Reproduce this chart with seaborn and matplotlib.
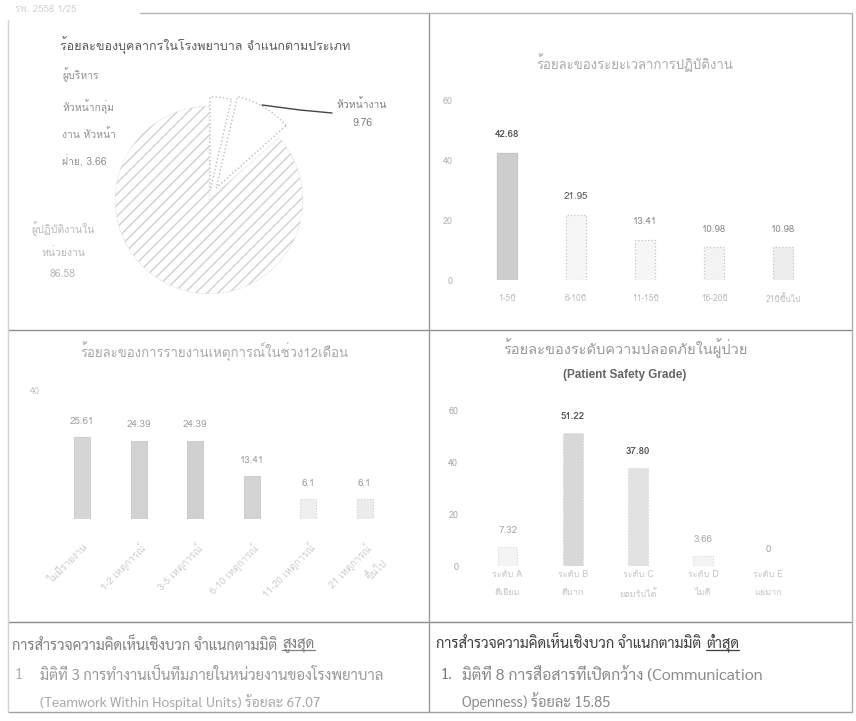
import matplotlib
matplotlib.use("Agg")
import matplotlib.pyplot as plt
import seaborn as sns
import pandas as pd
from matplotlib.lines import Line2D

# ---------------- data ----------------
staff_labels = ["ผู้บริหาร\nหัวหน้ากลุ่ม\nงาน หัวหน้า\nฝ่าย, 3.66",
                "หัวหน้างาน\n9.76",
                "ผู้ปฏิบัติงานใน\nหน่วยงาน\n86.58"]
staff_values = [3.66, 9.76, 86.58]

tenure_cats = ["1-5ปี", "6-10ปี", "11-15ปี", "16-20ปี", "21ปีขึ้นไป"]
tenure_values = [42.68, 21.95, 13.41, 10.98, 10.98]
tenure_text = ["42.68", "21.95", "13.41", "10.98", "10.98"]

report_cats = ["ไม่มีรายงาน", "1-2 เหตุการณ์", "3-5 เหตุการณ์",
               "6-10 เหตุการณ์", "11-20 เหตุการณ์", "21 เหตุการณ์\nขึ้นไป"]
report_values = [25.61, 24.39, 24.39, 13.41, 6.1, 6.1]
report_text = ["25.61", "24.39", "24.39", "13.41", "6.1", "6.1"]

grade_cats = ["ระดับ A\nดีเยี่ยม", "ระดับ B\nดีมาก", "ระดับ C\nยอมรับได้",
              "ระดับ D\nไม่ดี", "ระดับ E\nแย่มาก"]
grade_values = [7.32, 51.22, 37.80, 3.66, 0]
grade_text = ["7.32", "51.22", "37.80", "3.66", "0"]

W, H = 856, 721
sns.set_theme(style="white")
plt.rcParams['font.family'] = ['Loma', 'DejaVu Sans']
THAI = ['Loma', 'DejaVu Sans']
SARA = ['Sarabun', 'DejaVu Sans']

fig = plt.figure(figsize=(W / 100, H / 100), dpi=100)
fig.patch.set_facecolor('white')


def rect(l, t, r, b):
    return [l / W, 1 - b / H, (r - l) / W, (b - t) / H]


def fx(px):
    return px / W


def fy(py):
    return 1 - py / H


def hline(y, x0, x1, color='#9c9c9c', lw=1.0):
    fig.add_artist(Line2D([fx(x0), fx(x1)], [fy(y), fy(y)], color=color, lw=lw,
                          transform=fig.transFigure))


def vline(x, y0, y1, color='#9c9c9c', lw=1.0):
    fig.add_artist(Line2D([fx(x), fx(x)], [fy(y0), fy(y1)], color=color, lw=lw,
                          transform=fig.transFigure))


# ---------------- table frame ----------------
hline(13, 140, 852, '#b5b5b5')
hline(330, 8, 852, '#8f8f8f')
hline(622, 8, 852, '#8a8a8a')
hline(712, 8, 852, '#a0a0a0')
vline(8, 20, 712, '#d2d2d2')
vline(852, 13, 712, '#b0b0b0')
vline(429, 13, 712, '#9a9a9a')

fig.text(fx(15), fy(9), "รพ. 2558 1/25", fontsize=7, color='#d2d2d2',
         family=THAI, va='center')

# ---------------- pie ----------------
ax_pie = fig.add_axes(rect(209 - 150, 200 - 150, 209 + 150, 200 + 150))
wedges, _ = ax_pie.pie(staff_values, startangle=90, counterclock=False,
                       explode=[0.1, 0.15, 0.0], radius=1)
ax_pie.set_xlim(-1.6, 1.6)
ax_pie.set_ylim(-1.6, 1.6)
ax_pie.axis('off')
for w in wedges[:2]:
    w.set_facecolor('white')
    w.set_edgecolor('#bdbdbd')
    w.set_linestyle(':')
    w.set_linewidth(1.0)
wedges[2].set_facecolor('white')
wedges[2].set_edgecolor('#d0d0d0')
wedges[2].set_hatch('///')
wedges[2].set_linewidth(0.6)
wedges[2].set_linestyle(':')

fig.text(fx(60), fy(45), "ร้อยละของบุคลากรในโรงพยาบาล จำแนกตามประเภท",
         fontsize=9, color='#5a5a5a', family=THAI, va='center')
fig.text(fx(62), fy(67), staff_labels[0], fontsize=7.5, color='#929292',
         family=THAI, va='top', ha='left', linespacing=2.45)
fig.text(fx(362), fy(113), staff_labels[1], fontsize=7.5, color='#808080',
         family=THAI, va='center', ha='center', linespacing=2.1)
fig.text(fx(63), fy(250), staff_labels[2], fontsize=7.5, color='#b8b8b8',
         family=THAI, va='center', ha='center', linespacing=2.3)
fig.add_artist(Line2D([fx(262), fx(300), fx(332)], [fy(105), fy(110), fy(113)],
                      color='#444444', lw=1.0, transform=fig.transFigure))


def style_bar_ax(ax, ypad, xpad, tick_color, tick_size):
    for s in ax.spines.values():
        s.set_visible(False)
    ax.tick_params(axis='both', length=0, colors=tick_color, labelsize=tick_size)
    ax.tick_params(axis='y', pad=ypad)
    ax.tick_params(axis='x', pad=xpad)
    ax.set_xlabel('')
    ax.set_ylabel('')
    ax.set_facecolor('none')


# ---------------- tenure bars ----------------
ax1 = fig.add_axes(rect(472, 101, 818, 280))
df1 = pd.DataFrame({'cat': tenure_cats, 'val': tenure_values})
pal1 = dict(zip(tenure_cats, ['#cdcdcd', '#f6f6f6', '#f6f6f6', '#f3f3f3', '#ededed']))
sns.barplot(data=df1, x='cat', y='val', hue='cat', palette=pal1, legend=False,
            width=0.29, edgecolor='#c6c6c6', linewidth=0.9, saturation=1, ax=ax1)
ax1.set_ylim(0, 60)
ax1.set_yticks([0, 20, 40, 60])
style_bar_ax(ax1, 14, 10, '#b4b4b4', 6.5)
plt.setp(ax1.get_xticklabels(), fontsize=6, color='#bdbdbd')
for i, (p, t) in enumerate(zip(ax1.patches, tenure_text)):
    p.set_linestyle(':' if i else '-')
    ax1.annotate(t, (p.get_x() + p.get_width() / 2, p.get_height()),
                 xytext=(0, 13), textcoords='offset points', ha='center',
                 va='center', fontsize=7, family=THAI,
                 color='#555555' if i < 2 else '#8a8a8a',
                 fontweight='bold' if i == 0 else 'normal')
fig.text(fx(635), fy(63), "ร้อยละของระยะเวลาการปฏิบัติงาน", fontsize=9.5,
         color='#ababab', family=THAI, ha='center', va='center')

# ---------------- report bars ----------------
ax2 = fig.add_axes(rect(54, 391, 393, 519))
df2 = pd.DataFrame({'cat': report_cats, 'val': report_values})
pal2 = dict(zip(report_cats, ['#d6d6d6', '#d2d2d2', '#d0d0d0', '#d4d4d4',
                              '#efefef', '#ececec']))
sns.barplot(data=df2, x='cat', y='val', hue='cat', palette=pal2, legend=False,
            width=0.29, edgecolor='#cfcfcf', linewidth=0.8, saturation=1, ax=ax2)
ax2.set_ylim(0, 40)
ax2.set_yticks([40])
style_bar_ax(ax2, 10, 16, '#c4c4c4', 6.5)
plt.setp(ax2.get_xticklabels(), rotation=45, ha='right', rotation_mode='anchor',
         color='#cccccc', fontsize=7, linespacing=1.8)
for i, (p, t) in enumerate(zip(ax2.patches, report_text)):
    if i >= 4:
        p.set_linestyle(':')
    ax2.annotate(t, (p.get_x() + p.get_width() / 2, p.get_height()),
                 xytext=(0, 11.5), textcoords='offset points', ha='center',
                 va='center', fontsize=7, family=THAI, color='#a0a0a0')
fig.text(fx(214), fy(352), "ร้อยละของการรายงานเหตุการณ์ในช่วง12เดือน",
         fontsize=9.5, color='#aaaaaa', family=THAI, ha='center', va='center')

# ---------------- grade bars ----------------
ax3 = fig.add_axes(rect(475, 410, 801, 566))
df3 = pd.DataFrame({'cat': grade_cats, 'val': grade_values})
pal3 = dict(zip(grade_cats, ['#f4f4f4', '#d8d8d8', '#e2e2e2', '#f4f4f4', '#f4f4f4']))
sns.barplot(data=df3, x='cat', y='val', hue='cat', palette=pal3, legend=False,
            width=0.3, edgecolor='#d6d6d6', linewidth=0.8, saturation=1, ax=ax3)
ax3.set_ylim(0, 60)
ax3.set_yticks([0, 20, 40, 60])
style_bar_ax(ax3, 12, 3, '#a8a8a8', 6.5)
plt.setp(ax3.get_xticklabels(), color='#c6c6c6', fontsize=6.5, linespacing=2.3)
for i, (p, t) in enumerate(zip(ax3.patches, grade_text)):
    p.set_linestyle(':')
    big = i in (1, 2)
    ax3.annotate(t, (p.get_x() + p.get_width() / 2, p.get_height()),
                 xytext=(0, 12), textcoords='offset points', ha='center',
                 va='center', fontsize=7, family=THAI,
                 color='#555555' if big else '#a8a8a8',
                 fontweight='bold' if big else 'normal')
fig.text(fx(625), fy(348), "ร้อยละของระดับความปลอดภัยในผู้ป่วย", fontsize=10.5,
         color='#9a9a9a', family=THAI, ha='center', va='center')
fig.text(fx(625), fy(375), "(Patient Safety Grade)", fontsize=8.5,
         color='#666666', family=['Liberation Sans', 'DejaVu Sans'],
         fontweight='bold', ha='center', va='center')

# ---------------- bottom text boxes ----------------
renderer = fig.canvas.get_renderer()


def underlined_title(x, y, base, word, color, size):
    t = fig.text(fx(x), fy(y), base, fontsize=size, color=color, family=SARA,
                 va='center', ha='left')
    bb = t.get_window_extent(renderer)
    x2 = bb.x1 + 5
    t2 = fig.text(x2 / fig.bbox.width, fy(y), word, fontsize=size, color=color,
                  family=SARA, va='center', ha='left')
    bb2 = t2.get_window_extent(renderer)
    yl = (bb2.y0 + 2) / fig.bbox.height
    fig.add_artist(Line2D([bb2.x0 / fig.bbox.width, bb2.x1 / fig.bbox.width],
                          [yl, yl], color=color, lw=0.9,
                          transform=fig.transFigure))


underlined_title(12, 645, "การสำรวจความคิดเห็นเชิงบวก จำแนกตามมิติ", "สูงสุด",
                 '#808080', 10.5)
fig.text(fx(14), fy(675), "1", fontsize=10.5, color='#b0b0b0', family=SARA,
         va='center')
fig.text(fx(40), fy(675), "มิติที่ 3 การทำงานเป็นทีมภายในหน่วยงานของโรงพยาบาล",
         fontsize=10.7, color='#9a9a9a', family=SARA, va='center')
fig.text(fx(40), fy(702), "(Teamwork Within Hospital Units) ร้อยละ 67.07",
         fontsize=10, color='#a8a8a8', family=SARA, va='center')

underlined_title(436, 643, "การสำรวจความคิดเห็นเชิงบวก จำแนกตามมิติ", "ต่ำสุด",
                 '#3e3e3e', 10.5)
fig.text(fx(440), fy(675), "1.", fontsize=10.5, color='#777777', family=SARA,
         va='center')
fig.text(fx(462), fy(675), "มิติที่ 8 การสื่อสารที่เปิดกว้าง (Communication",
         fontsize=11.5, color='#8a8a8a', family=SARA, va='center')
fig.text(fx(462), fy(701), "Openness) ร้อยละ 15.85",
         fontsize=10.5, color='#8a8a8a', family=SARA, va='center')

fig.savefig("out.png", dpi=100, facecolor='white')
